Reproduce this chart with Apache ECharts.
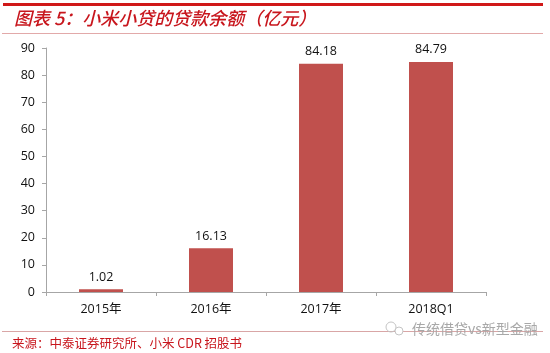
<!DOCTYPE html>
<html>
<head>
<meta charset="utf-8">
<style>
html, body { margin: 0; padding: 0; background: #fff; }
#chart { width: 550px; height: 353px; }
</style>
<script src="https://cdn.jsdelivr.net/npm/echarts@6/dist/echarts.min.js"></script>
</head>
<body>
<div id="chart"></div>
<script>
const categories = ['2015年', '2016年', '2017年', '2018Q1'];
const loanBalance = [1.02, 16.13, 84.18, 84.79];
const titleText = '图表 5：小米小贷的贷款余额（亿元）';
const sourceText = '来源：中泰证券研究所、小米 CDR 招股书';
const watermarkText = '传统借贷vs新型金融';

const chart = echarts.init(document.getElementById('chart'));
const font = '"Open Sans", "Noto Sans CJK SC", sans-serif';

chart.setOption({
    animation: false,
    grid: { left: 46, right: 64, top: 48, bottom: 61 },
    xAxis: {
        type: 'category',
        data: categories,
        axisLine: { lineStyle: { color: '#a6a6a6', width: 1 } },
        axisTick: { show: true, length: 4, lineStyle: { color: '#a6a6a6' } },
        axisLabel: { color: '#111', fontSize: 12.5, fontFamily: font, margin: 11 }
    },
    yAxis: {
        type: 'value',
        min: 0,
        max: 90,
        interval: 10,
        splitLine: { show: false },
        axisLine: { show: true, lineStyle: { color: '#a6a6a6', width: 1 } },
        axisTick: { show: true, length: 4, lineStyle: { color: '#a6a6a6' } },
        axisLabel: { color: '#111', fontSize: 12.5, fontFamily: font, margin: 11 }
    },
    series: [{
        type: 'bar',
        data: loanBalance,
        barWidth: 44,
        itemStyle: { color: '#c0504d' },
        label: {
            show: true,
            position: 'top',
            distance: 6,
            color: '#111',
            fontSize: 12.5,
            fontFamily: font,
            formatter: (p) => p.value.toFixed(2)
        }
    }],
    graphic: [
        { type: 'rect', shape: { x: 3, y: 3, width: 540, height: 3 }, style: { fill: '#d01818' } },
        { type: 'rect', shape: { x: 2, y: 33, width: 541, height: 1 }, style: { fill: '#e2a9a9' } },
        { type: 'rect', shape: { x: 2, y: 331, width: 541, height: 1 }, style: { fill: '#d9a6a6' } },
        {
            type: 'text', left: 14, top: 9,
            style: {
                text: titleText,
                fill: '#c8161d',
                font: 'italic 500 18px "Noto Sans CJK SC", sans-serif'
            }
        },
        {
            type: 'text', left: 12, top: 337,
            style: {
                text: sourceText,
                fill: '#c8161d',
                font: '12.5px "Noto Sans CJK SC", sans-serif'
            }
        },
        // 水印图标
        { type: 'circle', shape: { cx: 391, cy: 327, r: 5 }, style: { fill: 'none', stroke: '#c4c4c4', lineWidth: 1 } },
        { type: 'circle', shape: { cx: 399, cy: 331, r: 4 }, style: { fill: '#fff', stroke: '#c4c4c4', lineWidth: 1 } },
        {
            type: 'text', left: 412, top: 322,
            style: {
                text: watermarkText,
                fill: '#a8a8a8',
                font: '14px "Noto Sans CJK SC", sans-serif'
            }
        }
    ]
});
</script>
</body>
</html>
